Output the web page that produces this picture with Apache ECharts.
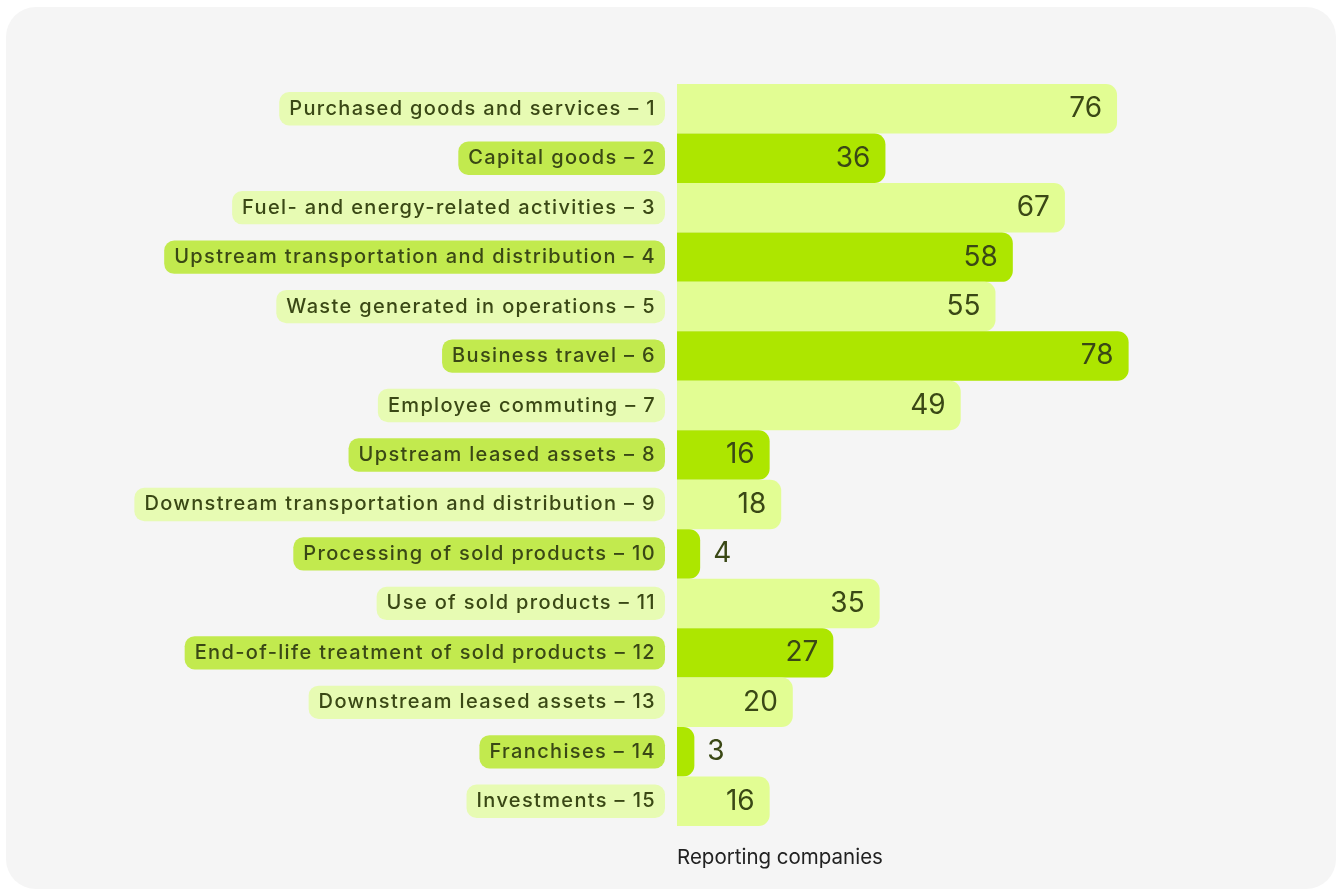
<!DOCTYPE html>
<html>
<head>
<meta charset="utf-8">
<script src="https://cdn.jsdelivr.net/npm/echarts@6/dist/echarts.min.js"></script>
<style>
html,body{margin:0;padding:0;background:#ffffff;}
#chart{width:1339px;height:890px;}
</style>
</head>
<body>
<div id="chart"></div>
<script>
const categories = [
  "Purchased goods and services – 1",
  "Capital goods – 2",
  "Fuel- and energy-related activities – 3",
  "Upstream transportation and distribution – 4",
  "Waste generated in operations – 5",
  "Business travel – 6",
  "Employee commuting – 7",
  "Upstream leased assets – 8",
  "Downstream transportation and distribution – 9",
  "Processing of sold products – 10",
  "Use of sold products – 11",
  "End-of-life treatment of sold products – 12",
  "Downstream leased assets – 13",
  "Franchises – 14",
  "Investments – 15"
];
const values = [76, 36, 67, 58, 55, 78, 49, 16, 18, 4, 35, 27, 20, 3, 16];
const axisTitle = "Reporting companies";

const barLight = "#e2fd93";
const barDark = "#ade600";
const lblLight = "#e7fbb3";
const lblDark = "#c2ea4e";
const txt = "#3a4815";
const FONT = "Inter, 'DejaVu Sans', sans-serif";

// Category label font is slightly wider-spaced in the reference: add letter spacing for the 20px label font only.
(function () {
  const proto = CanvasRenderingContext2D.prototype;
  const desc = Object.getOwnPropertyDescriptor(proto, 'font');
  if (!desc || !('letterSpacing' in proto)) return;
  Object.defineProperty(proto, 'font', {
    configurable: true,
    get: function () { return desc.get.call(this); },
    set: function (v) {
      desc.set.call(this, v);
      this.letterSpacing = /\b20px\b/.test(v) ? '1.35px' : '0px';
    }
  });
})();

const chart = echarts.init(document.getElementById('chart'), null, {renderer: 'canvas'});
chart.setOption({
  backgroundColor: '#ffffff',
  animation: false,
  graphic: [
    {type: 'rect', z: -10, shape: {x: 6, y: 7, width: 1330, height: 882, r: 30}, style: {fill: '#f5f5f5'}},
    {type: 'text', left: 677, top: 847, style: {text: axisTitle, fontSize: 20.5, fontFamily: FONT, fill: '#222222'}}
  ],
  grid: {left: 677, right: 83, top: 84, bottom: 64, containLabel: false},
  xAxis: {type: 'value', min: 0, max: 100, show: false},
  yAxis: {
    type: 'category', inverse: true, data: categories,
    axisLine: {show: false}, axisTick: {show: false}, splitLine: {show: false},
    axisLabel: {
      margin: 12,
      formatter: function (v, i) { return (i % 2 === 0 ? '{a|' : '{b|') + v + '}'; },
      rich: {
        a: {backgroundColor: lblLight, color: txt, fontSize: 20, fontFamily: FONT, fontWeight: 500, borderRadius: 10, padding: [6, 9, 6, 10], lineHeight: 22},
        b: {backgroundColor: lblDark, color: txt, fontSize: 20, fontFamily: FONT, fontWeight: 500, borderRadius: 10, padding: [6, 9, 6, 10], lineHeight: 22}
      }
    }
  },
  series: [{
    type: 'bar',
    barCategoryGap: '0%',
    data: values.map(function (v, i) {
      return {
        value: v,
        itemStyle: {color: i % 2 === 0 ? barLight : barDark, borderRadius: [0, 11, 11, 0]},
        label: {position: v < 10 ? 'right' : 'insideRight', distance: 13, offset: v < 10 ? [0, 0] : [-2, 0]}
      };
    }),
    label: {show: true, color: txt, fontSize: 28, fontFamily: FONT, fontWeight: 400}
  }]
});
</script>
</body>
</html>
